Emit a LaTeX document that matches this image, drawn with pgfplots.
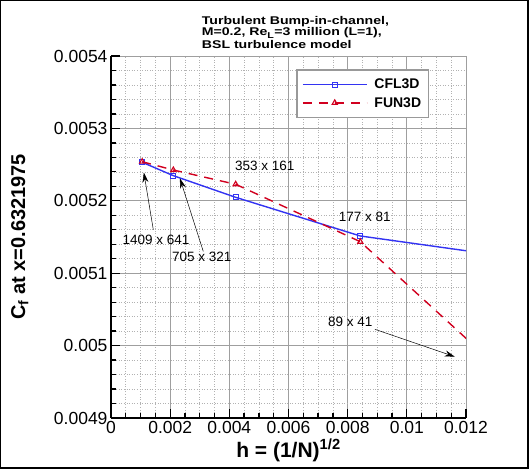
\documentclass[border=0pt]{standalone}
\usepackage{pgfplots}
\pgfplotsset{compat=1.18}
\usepackage{fontspec}
\setmainfont{Liberation Sans}
\newfontfamily\titlefont[FakeStretch=1.26]{Liberation Sans}
\usetikzlibrary{arrows.meta}
\definecolor{cflblue}{rgb}{0.2,0.2,0.95}
\definecolor{funred}{rgb}{0.82,0.0,0.12}
\begin{document}
\begin{tikzpicture}
\begin{axis}[
  scale only axis,
  width=355bp, height=362bp,
  at={(111bp,53bp)}, anchor=south west,
  xmin=0, xmax=0.012, ymin=0.0049, ymax=0.0054,
  axis x line*=bottom, axis y line*=left,
  axis line style={line width=1.6bp, black},
  xtick={0,0.002,0.004,0.006,0.008,0.01,0.012},
  ytick={0.0049,0.005,0.0051,0.0052,0.0053,0.0054},
  minor x tick num=3, minor y tick num=4,
  scaled x ticks=false, scaled y ticks=false,
  tick align=inside,
  major tick length=9bp, minor tick length=5bp,
  every tick/.style={black, line width=1.3bp},
  grid=both,
  major grid style={gray!75, line width=0.8bp},
  minor grid style={gray!60, line width=0.6bp, dotted},
  /pgf/number format/.cd, fixed, precision=4, assume math mode=true,
  /pgfplots/.cd,
  ticklabel style={font=\fontsize{17.5bp}{20bp}\selectfont},
  xlabel={\textbf{h = (1/N)\textsuperscript{1/2}}},
  ylabel={\textbf{C\textsubscript{f} at x=0.6321975}},
  xlabel style={font=\fontsize{21bp}{24bp}\selectfont, at={(axis description cs:0.5,-0.1086)}, anchor=base},
  ylabel style={font=\fontsize{20bp}{24bp}\selectfont, at={(axis description cs:-0.257,0.5)}, anchor=center},
  legend style={at={(0.895,0.963)}, anchor=north east, draw=gray!80, line width=1.2bp, fill=white,
    font=\bfseries\fontsize{14bp}{16bp}\selectfont, inner xsep=5bp, inner ysep=7bp,
    row sep=3bp, cells={anchor=west}},
  legend image code/.code={\draw[mark repeat=2,mark phase=2,#1] plot coordinates {(0bp,0bp) (32bp,0bp) (64bp,0bp)};},
  legend cell align=left,
]
\addplot[cflblue, line width=1.4bp, mark=square, mark size=2.5bp, mark options={solid, line width=1.2bp}]
  coordinates {(0.001053,0.0052532) (0.002107,0.0052347) (0.004214,0.0052048) (0.008427,0.0051514) (0.016855,0.0051033)};
\addlegendentry{\hspace{5bp}CFL3D\hspace{5bp}}
\addplot[funred, line width=1.4bp, dash pattern=on 9bp off 7bp, mark=triangle, mark size=3bp, mark options={solid, line width=1.1bp}]
  coordinates {(0.001053,0.0052540) (0.002107,0.0052425) (0.004214,0.0052228) (0.008427,0.0051435) (0.016855,0.0048288)};
\addlegendentry{\hspace{5bp}FUN3D\hspace{5bp}}
\begin{scope}[every node/.style={font=\fontsize{13.5bp}{16bp}\selectfont, inner sep=0pt}]
\node at (axis cs:0.00152,0.005146) {1409 x 641};
\node at (axis cs:0.00307,0.005122) {705 x 321};
\node at (axis cs:0.0052,0.005248) {353 x 161};
\node at (axis cs:0.00858,0.005178) {177 x 81};
\node at (axis cs:0.00809,0.005033) {89 x 41};
\end{scope}
\draw[black, line width=0.5bp, -{Stealth[length=10bp,width=6bp]}] (axis cs:0.00143,0.00516) -- (axis cs:0.00111,0.005239);
\draw[black, line width=0.5bp, -{Stealth[length=10bp,width=6bp]}] (axis cs:0.00312,0.00513) -- (axis cs:0.00233,0.005231);
\draw[black, line width=0.5bp, -{Stealth[length=10bp,width=6bp]}] (axis cs:0.00892,0.0050225) -- (axis cs:0.01162,0.0049847);
\end{axis}
\begin{scope}[every node/.style={font=\titlefont\bfseries\fontsize{11.2bp}{11bp}\selectfont, inner sep=0pt, anchor=base west}]
\node at (201.7bp,446.5bp) {Turbulent Bump-in-channel,};
\node at (201.7bp,435bp) {M=0.2, Re\textsubscript{\fontsize{8.5bp}{9bp}\selectfont L}=3 million (L=1),};
\node at (201.7bp,422.8bp) {BSL turbulence model};
\end{scope}
\draw[black, line width=1.2bp] (0.7bp,3bp) rectangle (528bp,470.4bp);
\pgfresetboundingbox
\useasboundingbox (0,0) rectangle (530bp,471bp);
\end{tikzpicture}
\end{document}
